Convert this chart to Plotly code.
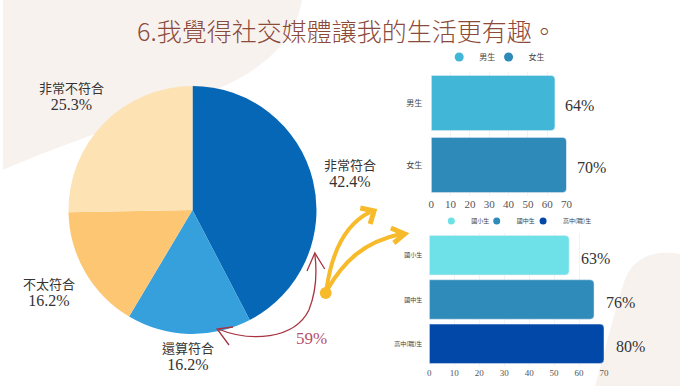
import plotly.graph_objects as go

W, H = 686, 386

# ---------------- data ----------------
pie_labels = ["非常符合", "還算符合", "不太符合", "非常不符合"]
pie_values = [42.4, 16.2, 16.2, 25.3]
pie_colors = ["#0567B5", "#36A0DD", "#FDC673", "#FDE2B4"]

gender_cats = ["男生", "女生"]
gender_values = [64, 70]
gender_labels = ["64%", "70%"]
gender_colors = ["#42B6D7", "#2E8AB8"]

school_cats = ["國小生", "國中生", "高中(職)生"]
school_bar_values = [56, 66, 70]
school_labels = ["63%", "76%", "80%"]
school_colors = ["#6DE1E7", "#2F8BB9", "#0248A9"]

axis_ticks = [0, 10, 20, 30, 40, 50, 60, 70]
title_text = "6.我覺得社交媒體讓我的生活更有趣。"
note_text = "59%"

CJK = "Noto Sans CJK TC"
SERIF = "Liberation Serif"


def px(x):
    return x / W


def py(y):
    return 1 - y / H


def path(cmds):
    out = []
    for c in cmds:
        if isinstance(c, str):
            out.append(c)
        else:
            out.append(f"{px(c[0]):.4f},{py(c[1]):.4f}")
    return " ".join(out)


fig = go.Figure()

# ---------------- pie ----------------
fig.add_trace(go.Pie(
    labels=pie_labels, values=pie_values, sort=False, direction="clockwise",
    rotation=0, marker=dict(colors=pie_colors, line=dict(width=0)),
    textinfo="none", hoverinfo="label+percent", showlegend=False,
    domain=dict(x=[px(66), px(318)], y=[py(334), py(86)]),
))

pie_label_pos = {"非常符合": (352, 172), "還算符合": (187, 355),
                 "不太符合": (47, 291), "非常不符合": (69, 95)}
for lab, val in zip(pie_labels, pie_values):
    x, y = pie_label_pos[lab]
    fig.add_annotation(
        x=px(x), y=py(y), xref="paper", yref="paper", showarrow=False,
        xanchor="center", yanchor="middle",
        text=f"{lab}<br><span style='font-family:{SERIF};font-size:16px'>{val:.1f}%</span>",
        font=dict(family=CJK, size=13, color="#333333"), align="center",
    )

# legend slots (one legend per entry so each can sit where the reference has it)
gender_legends = [("legend", 459), ("legend2", 509)]
school_legends = [("legend3", 451), ("legend4", 497), ("legend5", 544)]

# ---------------- gender bars ----------------
for cat, v, c, (lg, _) in zip(gender_cats, gender_values, gender_colors, gender_legends):
    fig.add_trace(go.Bar(
        x=[v], y=[cat], orientation="h", marker=dict(color=c, cornerradius=4),
        width=0.89, showlegend=False, xaxis="x", yaxis="y", hoverinfo="x+y",
    ))
    fig.add_trace(go.Scatter(
        x=[None], y=[None], mode="markers", name=cat,
        marker=dict(color=c, size=9, symbol="circle"), legend=lg,
        xaxis="x", yaxis="y",
    ))
for cat, v, lab in zip(gender_cats, gender_values, gender_labels):
    fig.add_annotation(x=v, y=cat, xref="x", yref="y", text=lab, showarrow=False,
                       xanchor="left", yanchor="middle", xshift=8, yshift=-2,
                       font=dict(family=SERIF, size=16, color="#333333"))

# ---------------- school bars ----------------
for cat, v, c, (lg, _) in zip(school_cats, school_bar_values, school_colors, school_legends):
    fig.add_trace(go.Bar(
        x=[v], y=[cat], orientation="h", marker=dict(color=c, cornerradius=4),
        width=0.89, showlegend=False, xaxis="x2", yaxis="y2", hoverinfo="x+y",
    ))
    fig.add_trace(go.Scatter(
        x=[None], y=[None], mode="markers", name=cat,
        marker=dict(color=c, size=7, symbol="circle"), legend=lg,
        xaxis="x2", yaxis="y2",
    ))
for cat, v, lab in zip(school_cats, school_bar_values, school_labels):
    fig.add_annotation(x=v, y=cat, xref="x2", yref="y2", text=lab, showarrow=False,
                       xanchor="left", yanchor="middle", xshift=10, yshift=-3,
                       font=dict(family=SERIF, size=16, color="#333333"))

# ---------------- decorations ----------------
shapes = []
beige = "#F8F2EF"
shapes.append(dict(type="path", xref="paper", yref="paper", layer="below",
                   fillcolor=beige, line=dict(width=0),
                   path=path(["M", (0, 0), "L", (303, 0), "C", (295, 45), (260, 75), (190, 100),
                              "C", (120, 125), (50, 148), (0, 170), "Z"])))
shapes.append(dict(type="path", xref="paper", yref="paper", layer="below",
                   fillcolor=beige, line=dict(width=0),
                   path=path(["M", (686, 254), "C", (665, 250), (640, 254), (630, 280),
                              "C", (620, 310), (610, 350), (600, 386), "L", (686, 386), "Z"])))

yellow = "#F7BA2B"
shapes.append(dict(type="circle", xref="paper", yref="paper", fillcolor=yellow,
                   line=dict(width=0), x0=px(321), x1=px(333), y0=py(299), y1=py(287)))
shapes.append(dict(type="path", xref="paper", yref="paper", line=dict(color=yellow, width=4),
                   path=path(["M", (328, 288), "C", (333, 255), (345, 225), (372, 212)])))
shapes.append(dict(type="path", xref="paper", yref="paper", line=dict(color=yellow, width=5),
                   path=path(["M", (362, 208), "L", (376, 211), "L", (372, 224)])))
shapes.append(dict(type="path", xref="paper", yref="paper", line=dict(color=yellow, width=4),
                   path=path(["M", (329, 289), "C", (345, 262), (365, 242), (403, 234)])))
shapes.append(dict(type="path", xref="paper", yref="paper", line=dict(color=yellow, width=5),
                   path=path(["M", (393, 228), "L", (407, 234), "L", (396, 243)])))

red = "#A8323F"
shapes.append(dict(type="path", xref="paper", yref="paper", line=dict(color=red, width=1.3),
                   path=path(["M", (218, 329), "C", (250, 342), (295, 340), (310, 310),
                              "C", (318, 290), (318, 270), (316, 254)])))
shapes.append(dict(type="path", xref="paper", yref="paper", line=dict(color=red, width=1.3),
                   path=path(["M", (233, 327), "L", (217, 329), "L", (229, 345)])))
shapes.append(dict(type="path", xref="paper", yref="paper", line=dict(color=red, width=1.3),
                   path=path(["M", (308, 271), "L", (316, 253), "L", (326, 269)])))

fig.add_annotation(x=px(313), y=py(338), xref="paper", yref="paper", text=note_text,
                   showarrow=False, xanchor="center", yanchor="middle",
                   font=dict(family=SERIF, size=17, color="#B4506A"))

fig.add_annotation(x=px(349), y=py(30), xref="paper", yref="paper", text=title_text,
                   showarrow=False, xanchor="center", yanchor="middle",
                   font=dict(family=CJK, size=25, color="#8B4A3A", weight=300))

axis_common = dict(showline=False, zeroline=False, ticks="", fixedrange=True)

legend_layout = {}
for lg, cx in gender_legends:
    legend_layout[lg] = dict(orientation="h", x=px(cx - 17), y=py(57), xanchor="left",
                             yanchor="middle", itemwidth=30, bgcolor="rgba(0,0,0,0)",
                             font=dict(family=CJK, size=8, color="#444444"))
for lg, cx in school_legends:
    legend_layout[lg] = dict(orientation="h", x=px(cx - 17), y=py(221), xanchor="left",
                             yanchor="middle", itemwidth=30, bgcolor="rgba(0,0,0,0)",
                             font=dict(family=CJK, size=6, color="#444444"))

fig.update_layout(
    width=W, height=H, margin=dict(l=0, r=0, t=0, b=0),
    paper_bgcolor="white", plot_bgcolor="rgba(0,0,0,0)",
    barmode="overlay", shapes=shapes,
    xaxis=dict(domain=[px(434), px(571)], range=[0, 70], tickvals=axis_ticks,
               anchor="y", showgrid=True, gridcolor="#F2F2F2",
               tickfont=dict(family=SERIF, size=11, color="#555555"), **axis_common),
    yaxis=dict(domain=[py(196), py(72)], categoryorder="array", categoryarray=gender_cats,
               autorange="reversed", anchor="x", showgrid=False,
               tickfont=dict(family=CJK, size=8, color="#444444"), ticklabelstandoff=8,
               **axis_common),
    xaxis2=dict(domain=[px(432), px(609)], range=[0, 70], tickvals=axis_ticks,
                anchor="y2", showgrid=True, gridcolor="#F2F2F2",
                tickfont=dict(family=SERIF, size=9, color="#555555"), **axis_common),
    yaxis2=dict(domain=[py(366), py(233)], categoryorder="array", categoryarray=school_cats,
                autorange="reversed", anchor="x2", showgrid=False,
                tickfont=dict(family=CJK, size=6, color="#444444"), ticklabelstandoff=6,
                **axis_common),
    **legend_layout,
)

fig.write_html("out.html", config=dict(displayModeBar=False),
               post_script="document.body.style.margin='0';")
